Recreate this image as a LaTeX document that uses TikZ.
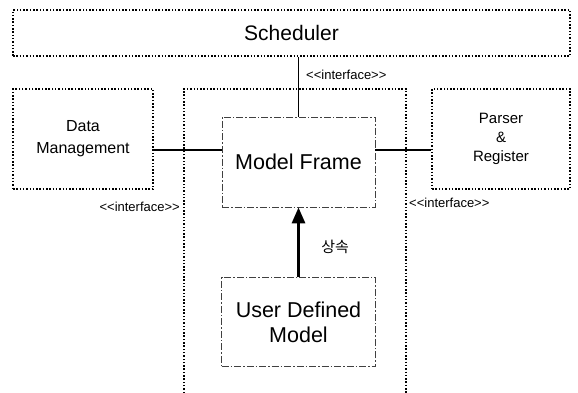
\documentclass[tikz,border=0pt]{standalone}
\usepackage{fontspec}
\setmainfont{Liberation Sans}
\newfontfamily\kofont{Noto Sans CJK KR}
\usetikzlibrary{positioning,arrows.meta}
\newcommand{\ifctext}{<\kern0pt<interface>\kern0pt>}

\begin{document}
\begin{tikzpicture}[x=1pt, y=-1pt,
  dotbox/.style={draw=black, line width=1.6pt, dash pattern=on 1.5pt off 1.8pt, align=center, inner sep=0pt},
  classbox/.style={draw=black!75, line width=0.8pt, dash pattern=on 7pt off 2pt on 1.5pt off 2pt, align=center, inner sep=0pt},
  conn/.style={draw=black, line width=1.2pt},
  ifc/.style={font=\fontsize{13}{15}\selectfont, inner sep=0pt}]
  \useasboundingbox (0,0) rectangle (578,393);
  % components
  \node[dotbox, minimum width=557pt, minimum height=46pt, font=\fontsize{21}{25}\selectfont](sched) at (291.5,33){Scheduler};
  \node[dotbox, minimum width=140pt, minimum height=100pt, font=\fontsize{16}{22}\selectfont](data) at (83,139){Data\\Management};
  \node[dotbox, minimum width=138pt, minimum height=100pt, font=\fontsize{15}{19}\selectfont](parser) at (501,139){Parser\\\&\\Register};
  \draw[dotbox] (184,393) -- (184,89) -- (406,89) -- (406,393);
  \node[classbox, minimum width=153pt, minimum height=90pt, font=\fontsize{21.5}{25}\selectfont](frame) at (298.5,162){Model Frame};
  \node[classbox, minimum width=154pt, minimum height=89pt, below=70pt of frame, font=\fontsize{21.5}{25}\selectfont](udm){User Defined\\Model};

  % interfaces
  \coordinate (mid) at (0,150);
  \draw[conn] (frame.north) -- (frame.north |- sched.south);
  \draw[conn] (data.east |- mid) -- (frame.west |- mid);
  \draw[conn] (frame.east |- mid) -- (parser.west |- mid);
  \node[ifc, anchor=west](ifctop) at (306,75){\ifctext};
  \node[ifc, anchor=east](ifcleft) at (180,207){\ifctext};
  \node[ifc, anchor=west](ifcright) at (409,203){\ifctext};

  % inheritance
  \draw[-{Triangle[length=16pt,width=13pt]}, line width=3pt] (udm.north) -- node[pos=0.43, right=18pt, font=\fontsize{15}{18}\selectfont\kofont](inh){상속} (frame.south);
\end{tikzpicture}
\end{document}
